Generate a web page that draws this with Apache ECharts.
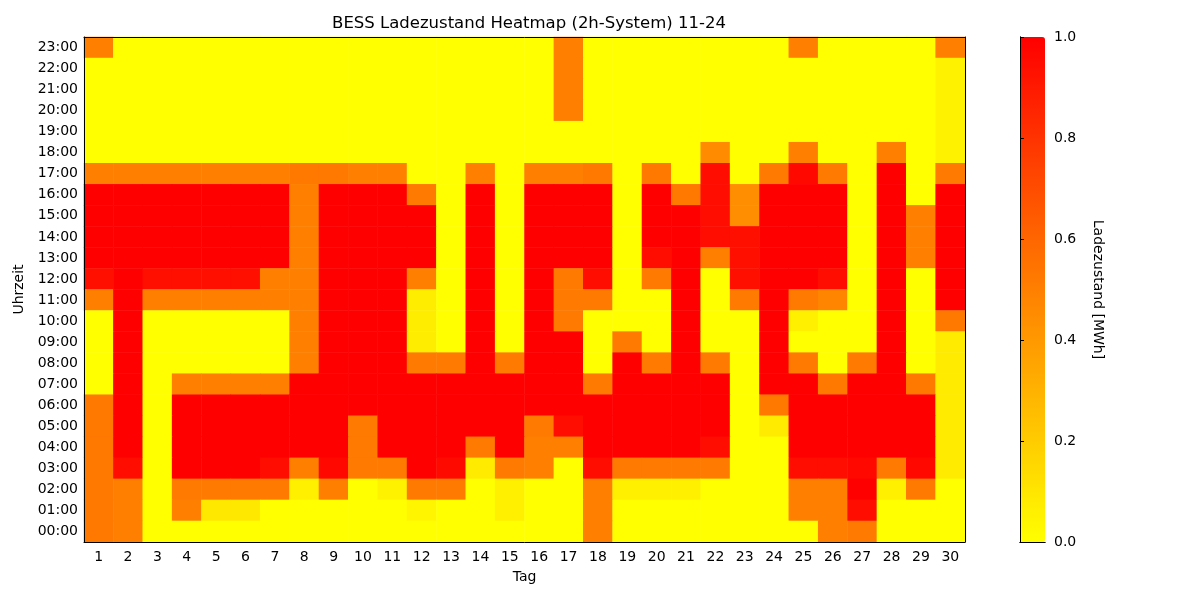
<!DOCTYPE html>
<html>
<head>
<meta charset="utf-8">
<script src="https://cdn.jsdelivr.net/npm/echarts@6/dist/echarts.min.js"></script>
<style>
  html, body { margin: 0; padding: 0; background: #fff; }
  #chart { width: 1200px; height: 600px; }
</style>
</head>
<body>
<div id="chart"></div>
<script>

var days = [];
for (var d = 1; d <= 30; d++) days.push(String(d));

var hours = [];
for (var h = 0; h < 24; h++) hours.push((h < 10 ? '0' : '') + h + ':00');

var cbTicks = [0, 0.2, 0.4, 0.6, 0.8, 1.0];

// state of charge [MWh], one row per hour, day 1..30
// rows listed from 23:00 down to 00:00 (like in the picture)
var socRows = [
    [0.5,0,0,0,0,0,0,0,0,0,0,0,0,0,0,0,0.5,0,0,0,0,0,0,0,0.5,0,0,0,0,0.5],                 // 23
    [0,0,0,0,0,0,0,0,0,0,0,0,0,0,0,0,0.5,0,0,0,0,0,0,0,0,0,0,0,0,0.05],                     // 22
    [0,0,0,0,0,0,0,0,0,0,0,0,0,0,0,0,0.5,0,0,0,0,0,0,0,0,0,0,0,0,0.05],                     // 21
    [0,0,0,0,0,0,0,0,0,0,0,0,0,0,0,0,0.5,0,0,0,0,0,0,0,0,0,0,0,0,0.05],                     // 20
    [0,0,0,0,0,0,0,0,0,0,0,0,0,0,0,0,0,0,0,0,0,0,0,0,0,0,0,0,0,0.05],                       // 19
    [0,0,0,0,0,0,0,0,0,0,0,0,0,0,0,0,0,0,0,0,0,0.45,0,0,0.5,0,0,0.5,0,0.05],                // 18
    [0.5,0.5,0.5,0.5,0.5,0.5,0.5,0.53,0.53,0.5,0.5,0,0,0.5,0,0.5,0.5,0.53,0,0.53,0,0.95,0,0.52,0.97,0.52,0,1,0,0.52], // 17
    [1,1,1,1,1,1,1,0.5,1,1,1,0.52,0,1,0,1,1,1,0,1,0.53,0.95,0.44,1,1,1,0,1,0,1],            // 16
    [1,1,1,1,1,1,1,0.5,1,1,1,1,0,1,0,1,1,1,0,1,1,0.95,0.44,1,1,1,0,1,0.5,1],                // 15
    [1,1,1,1,1,1,1,0.5,1,1,1,1,0,1,0,1,1,1,0,1,1,0.95,0.94,1,1,1,0,1,0.5,1],                // 14
    [1,1,1,1,1,1,1,0.5,1,1,1,1,0,1,0,1,1,1,0,0.95,1,0.5,0.94,1,1,1,0,1,0.5,1],              // 13
    [0.94,1,0.94,0.94,0.94,0.94,0.5,0.5,1,1,1,0.5,0,1,0,1,0.52,0.95,0,0.52,1,0,0.94,1,1,0.95,0,1,0,1], // 12
    [0.5,1,0.5,0.5,0.5,0.5,0.5,0.5,1,1,1,0.07,0,1,0,1,0.52,0.52,0,0,1,0,0.52,1,0.52,0.48,0,1,0,1],     // 11
    [0,1,0,0,0,0,0,0.5,1,1,1,0.07,0,1,0,1,0.52,0,0,0,1,0,0,1,0.06,0,0,1,0,0.53],            // 10
    [0,1,0,0,0,0,0,0.5,1,1,1,0.07,0,1,0,1,1,0,0.52,0,1,0,0,1,0,0,0,1,0,0.08],               // 09
    [0,1,0,0,0,0,0,0.5,1,1,1,0.52,0.52,1,0.52,1,1,0,1,0.52,1,0.52,0,1,0.52,0,0.52,1,0,0.08], // 08
    [0,1,0,0.5,0.5,0.5,0.5,1,1,1,1,1,1,1,1,1,1,0.52,1,1,1,1,0,1,1,0.53,1,1,0.53,0.08],      // 07
    [0.53,1,0,1,1,1,1,1,1,1,1,1,1,1,1,1,1,1,1,1,1,1,0,0.53,1,1,1,1,1,0.08],                 // 06
    [0.53,1,0,1,1,1,1,1,1,0.52,1,1,1,1,1,0.52,0.95,1,1,1,1,1,0,0.08,1,1,1,1,1,0.08],        // 05
    [0.53,1,0,1,1,1,1,1,1,0.52,1,1,1,0.52,1,0.5,0.5,1,1,1,1,0.95,0,0,1,1,1,1,1,0.08],       // 04
    [0.53,0.95,0,1,1,1,0.95,0.5,0.97,0.52,0.52,1,0.96,0.08,0.52,0.5,0,0.95,0.52,0.52,0.52,0.52,0,0,0.95,0.95,0.97,0.52,0.97,0.08], // 03
    [0.53,0.5,0,0.52,0.52,0.52,0.52,0.06,0.5,0,0.05,0.52,0.52,0,0.06,0,0,0.5,0.06,0.06,0.06,0,0,0,0.5,0.5,1,0.06,0.52,0], // 02
    [0.53,0.5,0,0.5,0.09,0.09,0,0,0,0,0,0.04,0,0,0.06,0,0,0.5,0,0,0,0,0,0,0.5,0.5,0.95,0,0,0], // 01
    [0.53,0.5,0,0,0,0,0,0,0,0,0,0,0,0,0,0,0,0.5,0,0,0,0,0,0,0,0.5,0.52,0,0,0]               // 00
];

var heatData = [];
for (var r = 0; r < socRows.length; r++) {
    var hourIdx = 23 - r;
    for (var c = 0; c < days.length; c++) {
        heatData.push([c, hourIdx, socRows[r][c]]);
    }
}

var FONT = 'DejaVu Sans';
var txt = { color: '#000', fontFamily: FONT, fontSize: 14 };
var blackLine = { show: true, lineStyle: { color: '#000', width: 1 } };

var chart = echarts.init(document.getElementById('chart'), null, { renderer: 'canvas' });

var option = {
    animation: false,
    backgroundColor: '#fff',
    title: {
        text: 'BESS Ladezustand Heatmap (2h-System) 11-24',
        left: 524,
        top: 10,
        textAlign: 'center',
        textStyle: { color: '#000', fontFamily: FONT, fontSize: 16.5, fontWeight: 'normal' }
    },
    grid: [
        { left: 84, right: 235, top: 37, bottom: 58 },          // heatmap
        { left: 1020, width: 25, top: 37, height: 505 }         // colorbar axis
    ],
    xAxis: [
        {
            type: 'category', gridIndex: 0, data: days,
            name: 'Tag', nameLocation: 'middle', nameGap: 28, nameTextStyle: txt,
            axisLine: blackLine, z: 10,
            axisTick: { alignWithLabel: true, length: 4, lineStyle: { color: '#000' } },
            axisLabel: Object.assign({ margin: 8 }, txt),
            splitLine: { show: false }
        },
        {
            type: 'category', gridIndex: 0, data: days, position: 'top',
            axisLine: blackLine, axisTick: { show: false }, axisLabel: { show: false }, z: 10
        },
        {
            type: 'value', gridIndex: 1, min: 0, max: 1, position: 'bottom',
            axisLine: blackLine, axisTick: { show: false }, axisLabel: { show: false },
            splitLine: { show: false }, z: 10
        },
        {
            type: 'value', gridIndex: 1, min: 0, max: 1, position: 'top',
            axisLine: blackLine, axisTick: { show: false }, axisLabel: { show: false },
            splitLine: { show: false }, z: 10
        }
    ],
    yAxis: [
        {
            type: 'category', gridIndex: 0, data: hours,
            name: 'Uhrzeit', nameLocation: 'middle', nameGap: 50, nameTextStyle: txt,
            axisLine: blackLine, z: 10,
            axisTick: { alignWithLabel: true, length: 4, lineStyle: { color: '#000' } },
            axisLabel: Object.assign({ margin: 6 }, txt),
            splitLine: { show: false }
        },
        {
            type: 'category', gridIndex: 0, data: hours, position: 'right',
            axisLine: blackLine, axisTick: { show: false }, axisLabel: { show: false }, z: 10
        },
        {
            type: 'value', gridIndex: 1, min: 0, max: 1, interval: 0.2, position: 'right',
            name: 'Ladezustand [MWh]', nameLocation: 'middle', nameRotate: -90, nameGap: 46,
            nameTextStyle: txt,
            axisLine: blackLine, z: 10,
            axisTick: { show: true, length: 4, lineStyle: { color: '#000' } },
            axisLabel: Object.assign({
                margin: 9,
                formatter: function (v) { return cbTicks.indexOf(+v.toFixed(1)) >= 0 ? v.toFixed(1) : ''; }
            }, txt),
            splitLine: { show: false }
        },
        {
            type: 'value', gridIndex: 1, min: 0, max: 1, position: 'left',
            axisLine: blackLine, axisTick: { show: false }, axisLabel: { show: false },
            splitLine: { show: false }, z: 10
        }
    ],
    visualMap: {
        type: 'continuous',
        seriesIndex: 0,
        min: 0,
        max: 1,
        calculable: false,
        orient: 'vertical',
        left: 1020,
        top: 37,
        padding: 0,
        itemWidth: 25,
        itemHeight: 505,
        text: null,
        showLabel: false,
        inRange: { color: ['#ffff00', '#ff0000'] }
    },
    series: [
        {
            type: 'heatmap',
            xAxisIndex: 0,
            yAxisIndex: 0,
            data: heatData,
            itemStyle: { borderWidth: 0 },
            emphasis: { disabled: true }
        }
    ]
};

chart.setOption(option);
</script>
</body>
</html>
